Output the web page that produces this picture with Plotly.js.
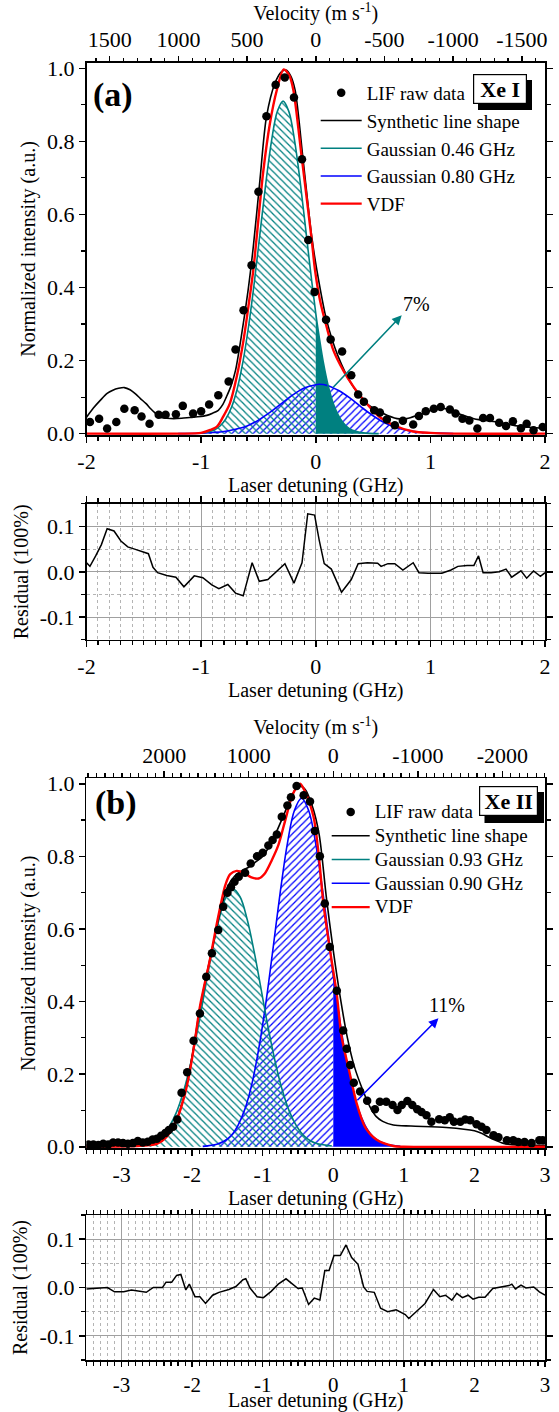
<!DOCTYPE html>
<html><head><meta charset="utf-8">
<script src="https://cdn.plot.ly/plotly-3.0.1.min.js"></script>
<style>html,body{margin:0;padding:0;background:#fff}</style>
</head><body><div id="chart" style="width:559px;height:1412px"></div>
<script>
// ---------------- Panel (a): Xe I ----------------
const LIF_A_X = [-1.97,-1.89,-1.82,-1.74,-1.67,-1.58,-1.52,-1.45,-1.37,-1.31,-1.22,-1.16,-1.07,-1.00,-0.93,-0.85,-0.76,-0.70,-0.63,-0.56,-0.50,-0.43,-0.35,-0.27,-0.19,-0.12,-0.065,-0.01,0.09,0.13,0.23,0.31,0.37,0.42,0.51,0.56,0.62,0.69,0.76,0.85,0.90,0.96,1.03,1.09,1.17,1.22,1.28,1.34,1.41,1.46,1.52,1.60,1.66,1.72,1.79,1.84,1.90,1.98];
const LIF_A_Y = [0.032,0.041,0.014,0.032,0.068,0.064,0.047,0.027,0.052,0.052,0.053,0.076,0.055,0.061,0.080,0.105,0.143,0.230,0.338,0.461,0.662,0.869,0.955,0.975,0.920,0.751,0.530,0.388,0.312,0.258,0.225,0.160,0.107,0.087,0.064,0.058,0.039,0.023,0.035,0.025,0.048,0.061,0.068,0.073,0.066,0.055,0.041,0.036,0.014,0.043,0.043,0.030,0.021,0.034,0.015,0.027,0.009,0.018];
const SYN_A_X = [-2.0,-1.94,-1.88,-1.82,-1.77,-1.72,-1.67,-1.62,-1.57,-1.53,-1.48,-1.44,-1.40,-1.36,-1.30,-1.24,-1.17,-1.10,-1.03,-0.95,-0.90,-0.85,-0.81,-0.78,-0.74,-0.70,-0.65,-0.59,-0.545,-0.487,-0.43,-0.356,-0.30,-0.26,-0.22,-0.18,-0.11,-0.035,0.01,0.095,0.197,0.31,0.445,0.59,0.71,0.795,0.91,1.056,1.14,1.26,1.38,1.58,1.78,2.0];
const SYN_A_Y = [0.045,0.07,0.091,0.11,0.119,0.124,0.126,0.12,0.108,0.096,0.082,0.068,0.056,0.045,0.042,0.041,0.042,0.044,0.046,0.05,0.056,0.064,0.08,0.10,0.13,0.173,0.265,0.393,0.511,0.694,0.867,0.959,0.99,0.995,0.98,0.94,0.749,0.539,0.447,0.31,0.21,0.137,0.082,0.055,0.041,0.041,0.053,0.068,0.068,0.053,0.041,0.032,0.020,0.014];
const TEAL_A_X = [-0.985,-0.885,-0.835,-0.785,-0.735,-0.685,-0.635,-0.585,-0.535,-0.485,-0.435,-0.385,-0.335,-0.285,-0.235,-0.185,-0.135,-0.085,-0.035,0,0.015,0.065,0.115,0.165,0.215,0.265,0.315,0.415,0.55];
const TEAL_A_Y = [0.002,0.010,0.021,0.040,0.072,0.123,0.197,0.296,0.417,0.552,0.687,0.803,0.882,0.91,0.882,0.803,0.687,0.552,0.417,0.33,0.296,0.197,0.123,0.072,0.040,0.021,0.010,0.002,0];
const BLUE_A_X = [-1.2,-1.0,-0.9,-0.8,-0.7,-0.6,-0.5,-0.4,-0.3,-0.2,-0.1,0.0,0.03,0.1,0.2,0.3,0.4,0.5,0.6,0.7,0.8,0.9,1.0,1.2];
const BLUE_A_Y = [0,0.001,0.003,0.006,0.012,0.021,0.037,0.058,0.082,0.106,0.125,0.134,0.135,0.132,0.118,0.097,0.072,0.049,0.030,0.017,0.009,0.004,0.002,0];
const VDF_A_X = [-2.0,-1.2,-1.0,-0.92,-0.86,-0.81,-0.75,-0.69,-0.63,-0.58,-0.545,-0.515,-0.46,-0.40,-0.34,-0.28,-0.23,-0.195,-0.123,-0.035,-0.006,0.037,0.095,0.154,0.24,0.33,0.445,0.56,0.68,0.85,1.0,1.2,2.0];
const VDF_A_Y = [0,0,0.002,0.01,0.02,0.045,0.082,0.155,0.256,0.365,0.447,0.539,0.712,0.849,0.94,0.997,0.98,0.94,0.758,0.53,0.447,0.365,0.292,0.228,0.173,0.128,0.082,0.045,0.023,0.006,0.002,0,0];
const RES_A_X = [-2.0,-1.97,-1.92,-1.87,-1.82,-1.76,-1.70,-1.64,-1.58,-1.52,-1.46,-1.42,-1.38,-1.30,-1.22,-1.15,-1.06,-0.985,-0.907,-0.845,-0.767,-0.70,-0.633,-0.555,-0.493,-0.418,-0.346,-0.269,-0.19,-0.12,-0.07,-0.01,0.03,0.074,0.136,0.225,0.31,0.37,0.45,0.54,0.57,0.63,0.69,0.76,0.85,0.90,0.98,1.10,1.18,1.24,1.32,1.38,1.42,1.46,1.53,1.60,1.66,1.71,1.79,1.84,1.90,1.96,2.0];
const RES_A_Y = [0.02,0.012,0.035,0.06,0.095,0.09,0.068,0.055,0.05,0.045,0.04,0.01,-0.002,-0.008,-0.012,-0.033,-0.009,-0.013,-0.029,-0.037,-0.028,-0.047,-0.053,0.02,-0.021,-0.017,0.0,0.018,-0.025,0.02,0.128,0.125,0.07,0.018,0.006,-0.045,-0.017,0.018,0.02,0.019,0.012,0.018,0.018,0.004,0.02,-0.002,-0.003,-0.003,0.004,0.012,0.014,0.014,0.035,-0.002,-0.002,0.0,0.006,-0.012,0.002,-0.014,0.002,-0.01,-0.002];

// ---------------- Panel (b): Xe II ----------------
const LIF_B_X = [-3.47,-3.40,-3.33,-3.26,-3.19,-3.12,-3.05,-2.98,-2.91,-2.84,-2.77,-2.70,-2.63,-2.56,-2.50,-2.44,-2.38,-2.33,-2.27,-2.21,-2.15,-2.07,-1.98,-1.89,-1.80,-1.72,-1.63,-1.56,-1.50,-1.45,-1.40,-1.34,-1.25,-1.17,-1.08,-1.00,-0.92,-0.86,-0.80,-0.73,-0.65,-0.60,-0.52,-0.42,-0.33,-0.26,-0.19,-0.12,-0.05,0.05,0.14,0.19,0.24,0.29,0.38,0.48,0.59,0.66,0.75,0.84,0.91,0.97,1.05,1.12,1.19,1.25,1.32,1.39,1.50,1.58,1.65,1.71,1.80,1.87,1.94,2.03,2.10,2.17,2.27,2.34,2.46,2.55,2.62,2.71,2.81,2.92,2.97];
const LIF_B_Y = [0.006,0.006,0.005,0.008,0.006,0.012,0.012,0.010,0.008,0.010,0.016,0.012,0.014,0.020,0.022,0.030,0.038,0.046,0.055,0.075,0.149,0.205,0.292,0.367,0.468,0.533,0.597,0.661,0.700,0.715,0.730,0.744,0.755,0.78,0.80,0.81,0.83,0.845,0.86,0.909,0.940,0.963,0.994,0.968,0.951,0.87,0.80,0.67,0.55,0.43,0.32,0.27,0.225,0.176,0.152,0.127,0.103,0.124,0.124,0.115,0.101,0.115,0.126,0.115,0.103,0.096,0.087,0.069,0.076,0.073,0.081,0.069,0.069,0.075,0.073,0.062,0.055,0.046,0.032,0.026,0.018,0.018,0.013,0.013,0.010,0.018,0.018];
const SYN_B_X = [-3.5,-3.0,-2.6,-2.5,-2.4,-2.3,-2.2,-2.1,-2.0,-1.9,-1.8,-1.7,-1.6,-1.5,-1.4,-1.3,-1.2,-1.1,-1.0,-0.9,-0.8,-0.7,-0.6,-0.5,-0.4,-0.3,-0.2,-0.1,0.0,0.1,0.2,0.3,0.43,0.52,0.61,0.7,0.85,1.1,1.6,2.0,2.1,2.2,2.3,2.4,2.6,3.0];
const SYN_B_Y = [0.005,0.005,0.006,0.01,0.02,0.045,0.085,0.15,0.25,0.37,0.47,0.56,0.65,0.715,0.745,0.76,0.77,0.785,0.80,0.83,0.87,0.915,0.96,0.995,0.985,0.94,0.86,0.69,0.54,0.41,0.30,0.22,0.15,0.11,0.083,0.07,0.06,0.057,0.053,0.044,0.037,0.027,0.018,0.01,0.005,0.004];
const TEAL_B_X = [-2.82,-2.62,-2.52,-2.42,-2.32,-2.22,-2.12,-2.02,-1.92,-1.82,-1.72,-1.62,-1.52,-1.42,-1.32,-1.22,-1.12,-1.02,-0.92,-0.82,-0.72,-0.62,-0.52,-0.42,-0.32,-0.22,-0.02];
const TEAL_B_Y = [0.002,0.008,0.016,0.031,0.057,0.096,0.154,0.231,0.325,0.431,0.536,0.626,0.688,0.71,0.688,0.626,0.536,0.431,0.325,0.231,0.154,0.096,0.057,0.031,0.016,0.008,0.002];
const BLUE_B_X = [-1.85,-1.65,-1.55,-1.45,-1.35,-1.25,-1.15,-1.05,-0.95,-0.85,-0.75,-0.65,-0.55,-0.45,-0.35,-0.25,-0.15,-0.05,0.0,0.05,0.15,0.25,0.35,0.45,0.55,0.65,0.75,0.95];
const BLUE_B_Y = [0.001,0.007,0.015,0.030,0.059,0.105,0.176,0.277,0.404,0.552,0.704,0.836,0.927,0.96,0.927,0.836,0.704,0.552,0.47,0.404,0.277,0.176,0.105,0.059,0.030,0.015,0.007,0.001];
const VDF_B_X = [-3.5,-2.9,-2.7,-2.5,-2.36,-2.22,-2.10,-2.03,-1.96,-1.89,-1.75,-1.63,-1.53,-1.46,-1.37,-1.27,-1.16,-1.06,-0.97,-0.87,-0.78,-0.68,-0.57,-0.47,-0.40,-0.28,-0.21,-0.14,-0.047,0.048,0.118,0.236,0.33,0.449,0.61,0.85,1.0,3.0];
const VDF_B_Y = [0,0.001,0.003,0.008,0.028,0.074,0.147,0.211,0.294,0.386,0.514,0.634,0.721,0.751,0.760,0.755,0.742,0.739,0.753,0.79,0.83,0.90,0.973,1.0,0.978,0.909,0.81,0.67,0.542,0.422,0.303,0.2,0.12,0.055,0.02,0.002,0,0];
const RES_B_X = [-3.5,-3.2,-3.10,-2.97,-2.86,-2.76,-2.65,-2.55,-2.42,-2.37,-2.29,-2.22,-2.16,-2.09,-2.04,-1.96,-1.89,-1.81,-1.71,-1.62,-1.48,-1.38,-1.28,-1.24,-1.18,-1.08,-0.99,-0.88,-0.78,-0.67,-0.57,-0.50,-0.44,-0.35,-0.27,-0.19,-0.12,-0.06,0.01,0.10,0.18,0.26,0.35,0.43,0.48,0.58,0.67,0.77,0.89,1.02,1.07,1.22,1.30,1.42,1.51,1.59,1.68,1.75,1.83,1.91,1.98,2.06,2.15,2.26,2.36,2.49,2.53,2.58,2.66,2.73,2.84,2.92,3.0];
const RES_B_Y = [-0.003,0.0,-0.009,-0.009,-0.005,-0.007,-0.01,0.0,0.0,0.011,0.011,0.025,0.027,-0.005,0.007,-0.019,-0.019,-0.033,-0.016,-0.01,-0.004,0.002,0.016,0.018,-0.001,-0.019,-0.021,-0.008,0.007,0.018,0.007,-0.002,-0.001,-0.035,-0.022,-0.026,0.035,0.035,0.066,0.066,0.088,0.062,0.048,0.001,-0.008,-0.01,-0.043,-0.05,-0.046,-0.056,-0.064,-0.043,-0.033,-0.004,-0.019,-0.016,-0.026,-0.012,-0.021,-0.016,-0.024,-0.02,-0.02,-0.002,0.0,0.004,0.007,-0.003,0.005,-0.001,0.001,-0.009,-0.016];

// ---------------- Labels / ticks ----------------
const NAMES_A = ['LIF raw data','Synthetic line shape','Gaussian 0.46 GHz','Gaussian 0.80 GHz','VDF'];
const NAMES_B = ['LIF raw data','Synthetic line shape','Gaussian 0.93 GHz','Gaussian 0.90 GHz','VDF'];
const GHZ_A_TICKS = [-2,-1,0,1,2];
const GHZ_A_TEXT = ['-2','-1','0','1','2'];
const GHZ_B_TICKS = [-3,-2,-1,0,1,2,3];
const GHZ_B_TEXT = ['-3','-2','-1','0','1','2','3'];
const VEL_A_TICKS = [1500,1000,500,0,-500,-1000,-1500];
const VEL_A_TEXT = ['1500','1000','500','0','-500','-1000','-1500'];
const VEL_B_TICKS = [2000,1000,0,-1000,-2000];
const VEL_B_TEXT = ['2000','1000','0','-1000','-2000'];
const INT_TICKS = [0,0.2,0.4,0.6,0.8,1.0];
const INT_TEXT = ['0.0','0.2','0.4','0.6','0.8','1.0'];
const RES_TICKS = [-0.1,0,0.1];
const RES_TEXT = ['-0.1','0.0','0.1'];
const PCT_A = '7%', PCT_B = '11%';
const X_TITLE = 'Laser detuning (GHz)';

// ---------------- helpers ----------------
const W = 559, H = 1412;
const px = v => v / W, py = v => 1 - v / H;
const TEAL = '#008080', BLUE = '#0000ff', RED = '#ff0000';
const FONT = 'Liberation Serif';
const sub = (xs, ys, f) => { const X=[],Y=[]; xs.forEach((x,i)=>{ if(f(x)){X.push(x);Y.push(ys[i]);} }); return [X,Y]; };
const big = s => '<span style="font-size:19px">' + s + '</span>';

function panelTraces(xa, ya, lg, d, names, solidColor, solidSrc, hatchTealAll) {
  const tr = [];
  const [bx, by] = hatchTealAll ? sub(d.bx, d.by, x => x <= 0) : [d.bx, d.by];
  tr.push({x: bx, y: by, xaxis: xa, yaxis: ya, mode: 'lines', line: {width: 0, shape: 'spline'},
    fill: 'tozeroy', fillcolor: 'rgba(0,0,0,0)',
    fillpattern: {shape: '/', fgcolor: BLUE, size: 5, solidity: 0.25}, showlegend: false, hoverinfo: 'skip'});
  const [tx, ty] = hatchTealAll ? [d.tx, d.ty] : sub(d.tx, d.ty, x => x <= 0);
  tr.push({x: tx, y: ty, xaxis: xa, yaxis: ya, mode: 'lines', line: {width: 0, shape: 'spline'},
    fill: 'tozeroy', fillcolor: 'rgba(0,0,0,0)',
    fillpattern: {shape: '\\', fgcolor: TEAL, size: 5, solidity: 0.25}, showlegend: false, hoverinfo: 'skip'});
  const [sx, sy] = sub(solidSrc[0], solidSrc[1], x => x >= 0);
  tr.push({x: sx, y: sy, xaxis: xa, yaxis: ya, mode: 'lines', line: {width: 0, shape: 'spline'},
    fill: 'tozeroy', fillcolor: solidColor, showlegend: false, hoverinfo: 'skip'});
  tr.push({x: d.bx, y: d.by, xaxis: xa, yaxis: ya, mode: 'lines', name: names[3], legend: lg, legendrank: 4,
    line: {color: BLUE, width: 1.6, shape: 'spline'}});
  tr.push({x: d.tx, y: d.ty, xaxis: xa, yaxis: ya, mode: 'lines', name: names[2], legend: lg, legendrank: 3,
    line: {color: TEAL, width: 1.6, shape: 'spline'}});
  tr.push({x: d.sx, y: d.sy, xaxis: xa, yaxis: ya, mode: 'lines', name: names[1], legend: lg, legendrank: 2,
    line: {color: 'black', width: 1.6, shape: 'spline', smoothing: 0.8}});
  tr.push({x: d.vx, y: d.vy, xaxis: xa, yaxis: ya, mode: 'lines', name: names[4], legend: lg, legendrank: 5,
    line: {color: RED, width: 2.4, shape: 'spline', smoothing: 0.8}});
  tr.push({x: d.lx, y: d.ly, xaxis: xa, yaxis: ya, mode: 'markers', name: names[0], legend: lg, legendrank: 1,
    marker: {color: 'black', size: 8.5}});
  return tr;
}

const dA = {lx: LIF_A_X, ly: LIF_A_Y, sx: SYN_A_X, sy: SYN_A_Y, tx: TEAL_A_X, ty: TEAL_A_Y, bx: BLUE_A_X, by: BLUE_A_Y, vx: VDF_A_X, vy: VDF_A_Y};
const dB = {lx: LIF_B_X, ly: LIF_B_Y, sx: SYN_B_X, sy: SYN_B_Y, tx: TEAL_B_X, ty: TEAL_B_Y, bx: BLUE_B_X, by: BLUE_B_Y, vx: VDF_B_X, vy: VDF_B_Y};

// empty carrier traces so that the top velocity axes are drawn (no visible marks)
const carrier = (xa, ya, ticks) => ({x: ticks, y: ticks.map(() => null), xaxis: xa, yaxis: ya, mode: 'markers',
  marker: {opacity: 0}, showlegend: false, hoverinfo: 'skip'});

const traces = [].concat(
  panelTraces('x', 'y', 'legend', dA, NAMES_A, TEAL, [TEAL_A_X, TEAL_A_Y], false),
  [carrier('x2', 'y', VEL_A_TICKS)],
  [{x: RES_A_X, y: RES_A_Y, xaxis: 'x3', yaxis: 'y3', mode: 'lines', line: {color: 'black', width: 1.5}, showlegend: false}],
  panelTraces('x4', 'y4', 'legend2', dB, NAMES_B.map(big), BLUE, [BLUE_B_X, BLUE_B_Y], true),
  [carrier('x5', 'y4', VEL_B_TICKS)],
  [{x: RES_B_X, y: RES_B_Y, xaxis: 'x6', yaxis: 'y6', mode: 'lines', line: {color: 'black', width: 1.5}, showlegend: false}]
);

const tf = {family: FONT, size: 22, color: 'black'};
const titleFont = {family: FONT, size: 20, color: 'black'};
const baseAx = {showline: true, linecolor: 'black', linewidth: 1.5, ticks: 'outside', ticklen: 6, tickwidth: 1.5,
  tickcolor: 'black', tickfont: tf, showgrid: false, zeroline: false, fixedrange: true};
const minorX = dt => ({tickmode: 'linear', tick0: 0, dtick: dt, ticks: 'outside', ticklen: 4, tickwidth: 1.2, tickcolor: 'black'});
const resGridMinor = dt => ({tickmode: 'linear', tick0: 0, dtick: dt, ticks: 'outside', ticklen: 4, tickwidth: 1.2, tickcolor: 'black',
  showgrid: true, gridcolor: '#b4b4b4', griddash: 'dot', gridwidth: 1});

const XA = [px(86.5), px(545)];
const XB = [px(86.3), px(545)];
const boxAnn = (x, y, t, w) => ({xref: 'paper', yref: 'paper', x: px(x), y: py(y), xanchor: 'center', yanchor: 'middle',
  text: '<b>' + t + '</b>', showarrow: false, font: {family: FONT, size: 22, color: 'black'},
  bgcolor: 'white', bordercolor: 'black', borderwidth: 1.2, borderpad: 0, width: w, height: 28});
const layout = {
  width: W, height: H, margin: {l: 0, r: 0, t: 0, b: 0}, paper_bgcolor: 'white', plot_bgcolor: 'rgba(0,0,0,0)',
  font: {family: FONT, color: 'black', size: 20}, showlegend: true,
  xaxis: Object.assign({}, baseAx, {domain: XA, anchor: 'y', range: [-2, 2], tickmode: 'array', tickvals: GHZ_A_TICKS, ticktext: GHZ_A_TEXT,
    minor: minorX(0.1), mirror: true, title: {text: X_TITLE, font: titleFont, standoff: 0}}),
  yaxis: Object.assign({}, baseAx, {domain: [py(435.1), py(62.8)], anchor: 'x', range: [-0.004, 1.015], tickmode: 'array', tickvals: INT_TICKS, ticktext: INT_TEXT,
    minor: minorX(0.1), mirror: 'ticks', title: {text: 'Normalized intensity (a.u.)', font: titleFont, standoff: 6}}),
  xaxis2: Object.assign({}, baseAx, {overlaying: 'x', anchor: 'y', side: 'top', showline: false, range: [1669, -1669], tickmode: 'array', tickvals: VEL_A_TICKS, ticktext: VEL_A_TEXT,
    minor: minorX(100), title: {text: 'Velocity (m s<sup>-1</sup>)', font: titleFont, standoff: 2}}),
  xaxis3: Object.assign({}, baseAx, {domain: XA, anchor: 'y3', range: [-2, 2], tickmode: 'array', tickvals: GHZ_A_TICKS, ticktext: GHZ_A_TEXT,
    showgrid: true, gridcolor: '#a0a0a0', gridwidth: 1, minor: resGridMinor(0.1), mirror: 'ticks',
    title: {text: X_TITLE, font: titleFont, standoff: 0}}),
  yaxis3: Object.assign({}, baseAx, {domain: [py(639.8), py(503.8)], anchor: 'x3', range: [-0.15, 0.15], tickmode: 'array', tickvals: RES_TICKS, ticktext: RES_TEXT,
    showgrid: true, gridcolor: '#a0a0a0', gridwidth: 1, minor: resGridMinor(0.05), mirror: 'ticks', title: {text: 'Residual (100%)', font: titleFont, standoff: 6}}),
  xaxis4: Object.assign({}, baseAx, {domain: XB, anchor: 'y4', range: [-3.5, 3], tickmode: 'array', tickvals: GHZ_B_TICKS, ticktext: GHZ_B_TEXT,
    minor: minorX(0.1), mirror: true, title: {text: X_TITLE, font: titleFont, standoff: 0}}),
  yaxis4: Object.assign({}, baseAx, {domain: [py(1148.2), py(778.3)], anchor: 'x4', range: [-0.004, 1.015], tickmode: 'array', tickvals: INT_TICKS, ticktext: INT_TEXT,
    minor: minorX(0.1), mirror: 'ticks', title: {text: 'Normalized intensity (a.u.)', font: titleFont, standoff: 6}}),
  xaxis5: Object.assign({}, baseAx, {overlaying: 'x4', anchor: 'y4', side: 'top', showline: false, range: [2921, -2504], tickmode: 'array', tickvals: VEL_B_TICKS, ticktext: VEL_B_TEXT,
    minor: minorX(100), title: {text: 'Velocity (m s<sup>-1</sup>)', font: titleFont, standoff: 2}}),
  xaxis6: Object.assign({}, baseAx, {domain: XB, anchor: 'y6', range: [-3.5, 3], tickmode: 'array', tickvals: GHZ_B_TICKS, ticktext: GHZ_B_TEXT,
    ticklen: 5, tickfont: {family: FONT, size: 21, color: 'black'},
    showgrid: true, gridcolor: '#a0a0a0', gridwidth: 1, minor: resGridMinor(0.1), mirror: 'ticks'}),
  yaxis6: Object.assign({}, baseAx, {domain: [py(1360), py(1215)], anchor: 'x6', range: [-0.15, 0.15], tickmode: 'array', tickvals: RES_TICKS, ticktext: RES_TEXT,
    showgrid: true, gridcolor: '#a0a0a0', gridwidth: 1, minor: resGridMinor(0.05), mirror: 'ticks', title: {text: 'Residual (100%)', font: titleFont, standoff: 6}}),
  legend: {x: px(315.7), y: py(74), xanchor: 'left', yanchor: 'top', bgcolor: 'rgba(0,0,0,0)', borderwidth: 0,
    font: {family: FONT, size: 19, color: 'black'}, itemwidth: 41, traceorder: 'normal'},
  legend2: {x: px(326.7), y: py(795), xanchor: 'left', yanchor: 'top', bgcolor: 'rgba(0,0,0,0)', borderwidth: 0,
    font: {family: FONT, size: 16, color: 'black'}, itemwidth: 38, traceorder: 'normal'},
  shapes: [
    {type: 'rect', xref: 'paper', yref: 'paper', x0: px(478), x1: px(532), y0: py(110), y1: py(80), fillcolor: 'black', line: {width: 0}, layer: 'below'},
    {type: 'rect', xref: 'paper', yref: 'paper', x0: px(484.5), x1: px(544), y0: py(823), y1: py(792), fillcolor: 'black', line: {width: 0}, layer: 'below'}
  ],
  annotations: [
    {xref: 'paper', yref: 'paper', x: px(113), y: py(95), xanchor: 'center', yanchor: 'middle', text: '<b>(a)</b>', showarrow: false, font: {family: FONT, size: 34, color: 'black'}},
    boxAnn(500, 89, 'Xe I', 52),
    {xref: 'paper', yref: 'paper', x: px(116), y: py(803), xanchor: 'center', yanchor: 'middle', text: '<b>(b)</b>', showarrow: false, font: {family: FONT, size: 34, color: 'black'}},
    boxAnn(508.3, 801.5, 'Xe II', 57),
    {xref: 'x', yref: 'y', x: 0.75, y: 0.324, ax: 0.14, ay: 0.123, axref: 'x', ayref: 'y', text: '', showarrow: true,
      arrowhead: 2, arrowsize: 1.2, arrowwidth: 1.6, arrowcolor: TEAL},
    {xref: 'x', yref: 'y', x: 0.88, y: 0.356, xanchor: 'center', yanchor: 'middle', text: PCT_A, showarrow: false, font: {family: FONT, size: 20, color: 'black'}},
    {xref: 'x4', yref: 'y4', x: 1.49, y: 0.354, ax: 0.32, ay: 0.124, axref: 'x4', ayref: 'y4', text: '', showarrow: true,
      arrowhead: 2, arrowsize: 1.2, arrowwidth: 1.6, arrowcolor: BLUE},
    {xref: 'x4', yref: 'y4', x: 1.61, y: 0.39, xanchor: 'center', yanchor: 'middle', text: PCT_B, showarrow: false, font: {family: FONT, size: 20, color: 'black'}},
    // x-axis title of the bottom residual panel (placed at the very bottom like the reference)
    {xref: 'paper', yref: 'paper', x: px(315.65), y: py(1400.5), xanchor: 'center', yanchor: 'middle', text: X_TITLE, showarrow: false,
      font: titleFont}
  ]
};

Plotly.newPlot('chart', traces, layout, {displayModeBar: false, staticPlot: true});
</script>
</body></html>
